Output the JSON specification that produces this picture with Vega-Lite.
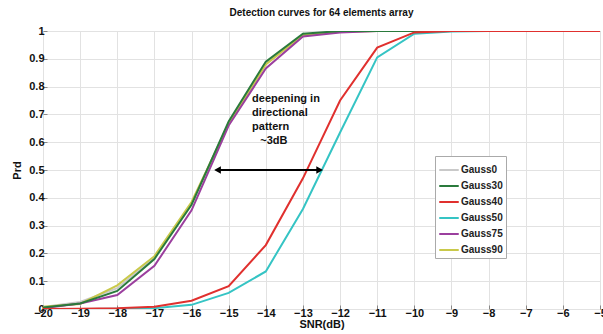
{
  "$schema": "https://vega.github.io/schema/vega-lite/v6.json",
  "autosize": "none",
  "width": 557,
  "height": 278,
  "padding": {"left": 43, "top": 31, "right": 3, "bottom": 25},
  "background": "white",
  "config": {
    "font": "Liberation Sans",
    "view": {"stroke": "#9a9a9a", "strokeWidth": 1},
    "axis": {"labelOverlap": false, "labelFlush": false, "domain": false, "tickSize": -4, "tickColor": "#888", "gridColor": "#e2e2e2", "gridWidth": 1, "labelFontSize": 11, "labelFontWeight": "bold", "labelColor": "#111", "titleFontSize": 11, "titleFontWeight": "bold", "titleColor": "#111"},
    "axisX": {"tickCount": 15, "labelPadding": 2, "titlePadding": 0},
    "axisY": {"tickCount": 10, "labelPadding": 3, "titlePadding": 6}
  },
  "title": {"text": "Detection curves for 64 elements array", "fontSize": 10, "fontWeight": "bold", "color": "#111", "offset": 7, "font": "Liberation Sans"},
  "datasets": {
    "curves": [
      {"series": "Gauss0", "snr": -20, "prd": 0.007}, {"series": "Gauss0", "snr": -19, "prd": 0.025}, {"series": "Gauss0", "snr": -18, "prd": 0.075}, {"series": "Gauss0", "snr": -17, "prd": 0.185}, {"series": "Gauss0", "snr": -16, "prd": 0.38}, {"series": "Gauss0", "snr": -15, "prd": 0.67}, {"series": "Gauss0", "snr": -14, "prd": 0.885}, {"series": "Gauss0", "snr": -13, "prd": 0.985}, {"series": "Gauss0", "snr": -12, "prd": 0.997}, {"series": "Gauss0", "snr": -11, "prd": 1}, {"series": "Gauss0", "snr": -10, "prd": 1}, {"series": "Gauss0", "snr": -9, "prd": 1}, {"series": "Gauss0", "snr": -8, "prd": 1}, {"series": "Gauss0", "snr": -7, "prd": 1}, {"series": "Gauss0", "snr": -6, "prd": 1}, {"series": "Gauss0", "snr": -5, "prd": 1},
      {"series": "Gauss90", "snr": -20, "prd": 0.008}, {"series": "Gauss90", "snr": -19, "prd": 0.018}, {"series": "Gauss90", "snr": -18, "prd": 0.085}, {"series": "Gauss90", "snr": -17, "prd": 0.19}, {"series": "Gauss90", "snr": -16, "prd": 0.385}, {"series": "Gauss90", "snr": -15, "prd": 0.665}, {"series": "Gauss90", "snr": -14, "prd": 0.88}, {"series": "Gauss90", "snr": -13, "prd": 0.985}, {"series": "Gauss90", "snr": -12, "prd": 0.997}, {"series": "Gauss90", "snr": -11, "prd": 1}, {"series": "Gauss90", "snr": -10, "prd": 1}, {"series": "Gauss90", "snr": -9, "prd": 1}, {"series": "Gauss90", "snr": -8, "prd": 1}, {"series": "Gauss90", "snr": -7, "prd": 1}, {"series": "Gauss90", "snr": -6, "prd": 1}, {"series": "Gauss90", "snr": -5, "prd": 1},
      {"series": "Gauss75", "snr": -20, "prd": 0.003}, {"series": "Gauss75", "snr": -19, "prd": 0.02}, {"series": "Gauss75", "snr": -18, "prd": 0.05}, {"series": "Gauss75", "snr": -17, "prd": 0.155}, {"series": "Gauss75", "snr": -16, "prd": 0.355}, {"series": "Gauss75", "snr": -15, "prd": 0.66}, {"series": "Gauss75", "snr": -14, "prd": 0.865}, {"series": "Gauss75", "snr": -13, "prd": 0.98}, {"series": "Gauss75", "snr": -12, "prd": 0.995}, {"series": "Gauss75", "snr": -11, "prd": 1}, {"series": "Gauss75", "snr": -10, "prd": 1}, {"series": "Gauss75", "snr": -9, "prd": 1}, {"series": "Gauss75", "snr": -8, "prd": 1}, {"series": "Gauss75", "snr": -7, "prd": 1}, {"series": "Gauss75", "snr": -6, "prd": 1}, {"series": "Gauss75", "snr": -5, "prd": 1},
      {"series": "Gauss30", "snr": -20, "prd": 0.005}, {"series": "Gauss30", "snr": -19, "prd": 0.02}, {"series": "Gauss30", "snr": -18, "prd": 0.065}, {"series": "Gauss30", "snr": -17, "prd": 0.18}, {"series": "Gauss30", "snr": -16, "prd": 0.375}, {"series": "Gauss30", "snr": -15, "prd": 0.675}, {"series": "Gauss30", "snr": -14, "prd": 0.89}, {"series": "Gauss30", "snr": -13, "prd": 0.99}, {"series": "Gauss30", "snr": -12, "prd": 1}, {"series": "Gauss30", "snr": -11, "prd": 1}, {"series": "Gauss30", "snr": -10, "prd": 1}, {"series": "Gauss30", "snr": -9, "prd": 1}, {"series": "Gauss30", "snr": -8, "prd": 1}, {"series": "Gauss30", "snr": -7, "prd": 1}, {"series": "Gauss30", "snr": -6, "prd": 1}, {"series": "Gauss30", "snr": -5, "prd": 1},
      {"series": "Gauss50", "snr": -20, "prd": 0}, {"series": "Gauss50", "snr": -19, "prd": 0}, {"series": "Gauss50", "snr": -18, "prd": 0.001}, {"series": "Gauss50", "snr": -17, "prd": 0.003}, {"series": "Gauss50", "snr": -16, "prd": 0.015}, {"series": "Gauss50", "snr": -15, "prd": 0.058}, {"series": "Gauss50", "snr": -14, "prd": 0.135}, {"series": "Gauss50", "snr": -13, "prd": 0.36}, {"series": "Gauss50", "snr": -12, "prd": 0.635}, {"series": "Gauss50", "snr": -11, "prd": 0.905}, {"series": "Gauss50", "snr": -10, "prd": 0.99}, {"series": "Gauss50", "snr": -9, "prd": 0.998}, {"series": "Gauss50", "snr": -8, "prd": 1}, {"series": "Gauss50", "snr": -7, "prd": 1}, {"series": "Gauss50", "snr": -6, "prd": 1}, {"series": "Gauss50", "snr": -5, "prd": 1},
      {"series": "Gauss40", "snr": -20, "prd": 0}, {"series": "Gauss40", "snr": -19, "prd": 0.001}, {"series": "Gauss40", "snr": -18, "prd": 0.003}, {"series": "Gauss40", "snr": -17, "prd": 0.008}, {"series": "Gauss40", "snr": -16, "prd": 0.03}, {"series": "Gauss40", "snr": -15, "prd": 0.082}, {"series": "Gauss40", "snr": -14, "prd": 0.23}, {"series": "Gauss40", "snr": -13, "prd": 0.47}, {"series": "Gauss40", "snr": -12, "prd": 0.75}, {"series": "Gauss40", "snr": -11, "prd": 0.94}, {"series": "Gauss40", "snr": -10, "prd": 0.995}, {"series": "Gauss40", "snr": -9, "prd": 1}, {"series": "Gauss40", "snr": -8, "prd": 1}, {"series": "Gauss40", "snr": -7, "prd": 1}, {"series": "Gauss40", "snr": -6, "prd": 1}, {"series": "Gauss40", "snr": -5, "prd": 1}
    ]
  },
  "layer": [
    {
      "data": {"name": "curves"},
      "mark": {"type": "line", "strokeWidth": 2, "clip": true},
      "encoding": {
        "x": {"field": "snr", "type": "quantitative", "scale": {"domain": [-20, -5], "nice": false},
          "axis": {"title": "SNR(dB)", "format": "d"}},
        "y": {"field": "prd", "type": "quantitative", "scale": {"domain": [0, 1], "nice": false},
          "axis": {"title": "Prd", "format": "~g"}},
        "color": {"field": "series", "type": "nominal",
          "scale": {"domain": ["Gauss0", "Gauss30", "Gauss40", "Gauss50", "Gauss75", "Gauss90"], "range": ["#c9c9c9", "#2a7a3c", "#e0302e", "#35c4c4", "#9b3f9e", "#c9c94a"]},
          "legend": {"orient": "none", "legendX": 392, "legendY": 125, "title": null, "symbolType": "stroke", "symbolStrokeWidth": 2, "symbolSize": 380, "labelFontSize": 10, "labelFontWeight": "bold", "labelColor": "#222", "rowPadding": -5, "strokeColor": "#aaa", "fillColor": "white", "padding": 3, "labelOffset": 1}},
        "order": {"value": 0}
      }
    },
    {
      "data": {"values": [{}]},
      "mark": {"type": "rule", "strokeWidth": 2, "color": "black"},
      "encoding": {"x": {"datum": -15.3}, "x2": {"datum": -12.55}, "y": {"datum": 0.5}}
    },
    {
      "data": {"values": [{}]},
      "mark": {"type": "point", "shape": "triangle-left", "filled": true, "color": "black", "size": 60, "opacity": 1},
      "encoding": {"x": {"datum": -15.3}, "y": {"datum": 0.5}}
    },
    {
      "data": {"values": [{}]},
      "mark": {"type": "point", "shape": "triangle-right", "filled": true, "color": "black", "size": 60, "opacity": 1},
      "encoding": {"x": {"datum": -12.55}, "y": {"datum": 0.5}}
    },
    {
      "data": {"values": [{}]},
      "mark": {"type": "text", "align": "left", "baseline": "middle", "fontSize": 11, "fontWeight": "bold", "color": "#111", "lineHeight": 14},
      "encoding": {"x": {"datum": -14.37}, "y": {"datum": 0.755}, "text": {"value": ["deepening in", "directional", "pattern"]}}
    },
    {
      "data": {"values": [{}]},
      "mark": {"type": "text", "align": "left", "baseline": "middle", "fontSize": 11, "fontWeight": "bold", "color": "#111"},
      "encoding": {"x": {"datum": -14.15}, "y": {"datum": 0.605}, "text": {"value": "~3dB"}}
    }
  ]
}
